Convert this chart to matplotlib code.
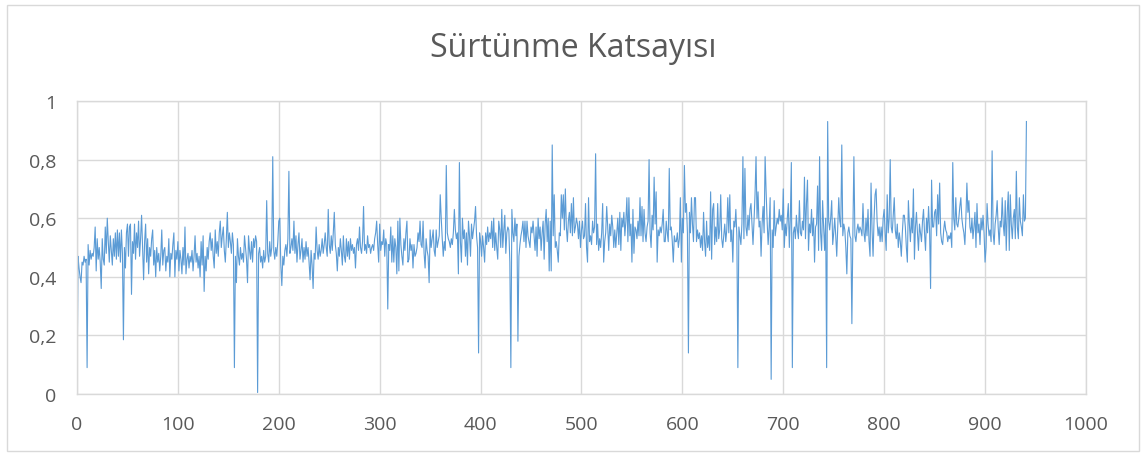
import numpy as np
import matplotlib
matplotlib.use("Agg")
import matplotlib.pyplot as plt
from matplotlib.patches import Rectangle

plt.rcParams['font.family'] = ['Open Sans', 'DejaVu Sans']

# friction coefficient readings, one per sample index (20 per row)
friction = [
    0.00, 0.47, 0.43, 0.40, 0.38, 0.45, 0.44, 0.47, 0.45, 0.46, 0.09, 0.51, 0.44, 0.49, 0.46, 0.48, 0.47, 0.50, 0.57, 0.42,
    0.53, 0.46, 0.50, 0.45, 0.36, 0.53, 0.46, 0.44, 0.57, 0.48, 0.60, 0.52, 0.45, 0.54, 0.49, 0.44, 0.53, 0.47, 0.55, 0.46,
    0.56, 0.47, 0.55, 0.45, 0.56, 0.48, 0.185, 0.50, 0.43, 0.55, 0.58, 0.47, 0.57, 0.58, 0.34, 0.52, 0.48, 0.58, 0.46, 0.55,
    0.50, 0.59, 0.47, 0.53, 0.61, 0.50, 0.39, 0.52, 0.58, 0.45, 0.53, 0.41, 0.50, 0.47, 0.53, 0.56, 0.44, 0.49, 0.40, 0.50,
    0.45, 0.48, 0.42, 0.47, 0.56, 0.44, 0.49, 0.50, 0.42, 0.47, 0.45, 0.53, 0.40, 0.48, 0.46, 0.51, 0.55, 0.40, 0.49, 0.46,
    0.52, 0.42, 0.49, 0.46, 0.41, 0.50, 0.44, 0.57, 0.41, 0.46, 0.48, 0.43, 0.47, 0.45, 0.49, 0.42, 0.47, 0.54, 0.45, 0.48,
    0.43, 0.47, 0.40, 0.52, 0.44, 0.54, 0.35, 0.47, 0.42, 0.50, 0.46, 0.52, 0.55, 0.49, 0.53, 0.47, 0.43, 0.56, 0.48, 0.52,
    0.47, 0.55, 0.59, 0.50, 0.54, 0.57, 0.49, 0.45, 0.53, 0.62, 0.50, 0.55, 0.52, 0.48, 0.55, 0.51, 0.09, 0.47, 0.38, 0.53,
    0.47, 0.44, 0.50, 0.46, 0.48, 0.45, 0.54, 0.50, 0.46, 0.38, 0.54, 0.49, 0.46, 0.52, 0.45, 0.53, 0.50, 0.54, 0.52, 0.005,
    0.48, 0.50, 0.45, 0.47, 0.43, 0.49, 0.45, 0.47, 0.66, 0.48, 0.45, 0.52, 0.47, 0.50, 0.81, 0.49, 0.46, 0.50, 0.47, 0.52,
    0.59, 0.60, 0.44, 0.37, 0.47, 0.44, 0.49, 0.51, 0.47, 0.53, 0.76, 0.48, 0.50, 0.53, 0.49, 0.59, 0.48, 0.54, 0.45, 0.51,
    0.55, 0.46, 0.49, 0.53, 0.45, 0.50, 0.46, 0.52, 0.47, 0.50, 0.45, 0.39, 0.49, 0.44, 0.36, 0.48, 0.46, 0.57, 0.49, 0.46,
    0.51, 0.47, 0.49, 0.53, 0.48, 0.51, 0.55, 0.50, 0.47, 0.63, 0.51, 0.48, 0.54, 0.49, 0.55, 0.62, 0.51, 0.48, 0.42, 0.50,
    0.47, 0.53, 0.49, 0.44, 0.54, 0.47, 0.45, 0.53, 0.47, 0.52, 0.46, 0.53, 0.49, 0.51, 0.48, 0.50, 0.43, 0.51, 0.53, 0.49,
    0.57, 0.50, 0.48, 0.52, 0.64, 0.49, 0.51, 0.48, 0.54, 0.50, 0.51, 0.48, 0.50, 0.51, 0.49, 0.53, 0.55, 0.59, 0.51, 0.45,
    0.58, 0.49, 0.52, 0.51, 0.56, 0.47, 0.53, 0.51, 0.29, 0.51, 0.49, 0.57, 0.45, 0.54, 0.45, 0.53, 0.50, 0.41, 0.59, 0.42,
    0.60, 0.51, 0.47, 0.44, 0.53, 0.49, 0.55, 0.59, 0.45, 0.46, 0.53, 0.49, 0.51, 0.43, 0.51, 0.47, 0.48, 0.50, 0.55, 0.52,
    0.59, 0.51, 0.50, 0.59, 0.48, 0.43, 0.53, 0.49, 0.47, 0.38, 0.56, 0.50, 0.53, 0.56, 0.49, 0.47, 0.56, 0.50, 0.52, 0.54,
    0.68, 0.60, 0.53, 0.47, 0.52, 0.49, 0.78, 0.55, 0.53, 0.52, 0.50, 0.53, 0.51, 0.55, 0.63, 0.56, 0.53, 0.55, 0.41, 0.79,
    0.52, 0.45, 0.60, 0.53, 0.56, 0.47, 0.55, 0.44, 0.59, 0.54, 0.47, 0.58, 0.53, 0.56, 0.59, 0.64, 0.54, 0.50, 0.14, 0.55,
    0.52, 0.47, 0.54, 0.50, 0.45, 0.55, 0.51, 0.57, 0.52, 0.55, 0.53, 0.59, 0.50, 0.60, 0.49, 0.55, 0.50, 0.46, 0.59, 0.56,
    0.50, 0.63, 0.50, 0.56, 0.61, 0.48, 0.55, 0.57, 0.56, 0.45, 0.09, 0.63, 0.55, 0.52, 0.60, 0.54, 0.58, 0.18, 0.47, 0.51,
    0.54, 0.56, 0.59, 0.52, 0.59, 0.50, 0.59, 0.54, 0.52, 0.50, 0.57, 0.55, 0.59, 0.54, 0.49, 0.57, 0.47, 0.60, 0.53, 0.57,
    0.49, 0.55, 0.59, 0.46, 0.58, 0.63, 0.52, 0.60, 0.42, 0.59, 0.42, 0.85, 0.54, 0.68, 0.50, 0.52, 0.49, 0.45, 0.55, 0.54,
    0.68, 0.60, 0.68, 0.56, 0.70, 0.57, 0.52, 0.59, 0.62, 0.55, 0.65, 0.54, 0.67, 0.55, 0.57, 0.60, 0.58, 0.53, 0.59, 0.50,
    0.56, 0.59, 0.53, 0.54, 0.65, 0.50, 0.45, 0.67, 0.52, 0.54, 0.51, 0.59, 0.55, 0.57, 0.82, 0.51, 0.58, 0.49, 0.53, 0.50,
    0.55, 0.65, 0.45, 0.52, 0.55, 0.64, 0.57, 0.49, 0.58, 0.54, 0.61, 0.57, 0.50, 0.56, 0.50, 0.55, 0.60, 0.51, 0.62, 0.49,
    0.60, 0.57, 0.62, 0.54, 0.59, 0.67, 0.52, 0.67, 0.54, 0.58, 0.45, 0.63, 0.48, 0.57, 0.56, 0.53, 0.59, 0.54, 0.67, 0.54,
    0.64, 0.52, 0.63, 0.55, 0.52, 0.57, 0.59, 0.80, 0.55, 0.50, 0.61, 0.56, 0.74, 0.58, 0.69, 0.45, 0.56, 0.54, 0.57, 0.55,
    0.58, 0.63, 0.52, 0.52, 0.59, 0.55, 0.52, 0.77, 0.56, 0.57, 0.52, 0.45, 0.54, 0.52, 0.52, 0.55, 0.50, 0.53, 0.67, 0.45,
    0.60, 0.55, 0.78, 0.62, 0.65, 0.55, 0.14, 0.62, 0.55, 0.67, 0.58, 0.52, 0.67, 0.67, 0.52, 0.56, 0.53, 0.55, 0.50, 0.54,
    0.49, 0.62, 0.52, 0.47, 0.59, 0.50, 0.54, 0.49, 0.69, 0.46, 0.63, 0.65, 0.51, 0.57, 0.52, 0.65, 0.53, 0.56, 0.68, 0.53,
    0.50, 0.54, 0.58, 0.52, 0.56, 0.67, 0.55, 0.68, 0.52, 0.56, 0.45, 0.59, 0.57, 0.63, 0.54, 0.09, 0.57, 0.54, 0.51, 0.58,
    0.81, 0.53, 0.77, 0.57, 0.54, 0.61, 0.56, 0.63, 0.65, 0.58, 0.51, 0.59, 0.68, 0.81, 0.60, 0.69, 0.57, 0.59, 0.47, 0.58,
    0.64, 0.55, 0.81, 0.69, 0.59, 0.51, 0.57, 0.67, 0.05, 0.56, 0.50, 0.66, 0.54, 0.57, 0.60, 0.58, 0.63, 0.59, 0.61, 0.56,
    0.70, 0.50, 0.58, 0.54, 0.60, 0.65, 0.50, 0.60, 0.79, 0.09, 0.55, 0.57, 0.53, 0.61, 0.56, 0.53, 0.66, 0.55, 0.54, 0.59,
    0.56, 0.74, 0.53, 0.65, 0.73, 0.49, 0.58, 0.55, 0.63, 0.54, 0.60, 0.45, 0.57, 0.58, 0.71, 0.49, 0.81, 0.55, 0.49, 0.66,
    0.57, 0.49, 0.60, 0.09, 0.93, 0.59, 0.56, 0.60, 0.66, 0.51, 0.55, 0.60, 0.54, 0.47, 0.57, 0.67, 0.59, 0.57, 0.85, 0.54,
    0.58, 0.56, 0.50, 0.41, 0.55, 0.57, 0.54, 0.53, 0.24, 0.55, 0.81, 0.54, 0.52, 0.56, 0.58, 0.55, 0.57, 0.56, 0.54, 0.65,
    0.55, 0.52, 0.60, 0.54, 0.63, 0.52, 0.47, 0.72, 0.56, 0.47, 0.60, 0.68, 0.70, 0.59, 0.54, 0.57, 0.52, 0.57, 0.52, 0.60,
    0.63, 0.55, 0.49, 0.68, 0.55, 0.60, 0.80, 0.57, 0.55, 0.61, 0.67, 0.56, 0.53, 0.58, 0.50, 0.55, 0.52, 0.47, 0.55, 0.61,
    0.61, 0.57, 0.50, 0.45, 0.66, 0.58, 0.52, 0.60, 0.55, 0.70, 0.46, 0.57, 0.62, 0.55, 0.49, 0.58, 0.55, 0.52, 0.59, 0.63,
    0.55, 0.49, 0.60, 0.55, 0.64, 0.56, 0.36, 0.73, 0.57, 0.57, 0.62, 0.63, 0.54, 0.68, 0.58, 0.72, 0.55, 0.52, 0.51, 0.56,
    0.59, 0.56, 0.55, 0.52, 0.54, 0.53, 0.55, 0.50, 0.79, 0.60, 0.56, 0.67, 0.58, 0.57, 0.60, 0.64, 0.67, 0.60, 0.57, 0.55,
    0.51, 0.60, 0.72, 0.62, 0.66, 0.57, 0.55, 0.60, 0.53, 0.57, 0.62, 0.50, 0.65, 0.55, 0.58, 0.51, 0.60, 0.56, 0.61, 0.55,
    0.45, 0.50, 0.65, 0.58, 0.54, 0.56, 0.52, 0.83, 0.55, 0.51, 0.58, 0.61, 0.66, 0.57, 0.51, 0.59, 0.57, 0.67, 0.58, 0.54,
    0.66, 0.49, 0.62, 0.69, 0.49, 0.68, 0.58, 0.53, 0.60, 0.63, 0.53, 0.76, 0.57, 0.53, 0.67, 0.59, 0.57, 0.54, 0.68, 0.59,
    0.60, 0.93,
]
sample = np.arange(len(friction))

x_ticks = list(range(0, 1001, 100))
y_ticks = [0, 0.2, 0.4, 0.6, 0.8, 1.0]
y_tick_labels = ["0", "0,2", "0,4", "0,6", "0,8", "1"]

GRID = "#d9d9d9"
TEXT = "#595959"
LINE = "#5b9bd5"

fig = plt.figure(figsize=(11.46, 4.56), dpi=100)
fig.patches.append(Rectangle((0.006, 0.008), 0.988, 0.978, transform=fig.transFigure,
                             fill=False, edgecolor=GRID, linewidth=1.0))

ax = fig.add_axes([0.0672, 0.1338, 0.8804, 0.6425])
ax.plot(sample, friction, color=LINE, linewidth=0.8)

ax.set_xlim(0, 1000)
ax.set_ylim(0, 1)
ax.set_xticks(x_ticks)
ax.set_yticks(y_ticks)
ax.set_yticklabels(y_tick_labels)
ax.grid(True, color=GRID, linewidth=1.0)
ax.set_axisbelow(True)
for s in ax.spines.values():
    s.set_color(GRID)
    s.set_linewidth(1.0)
ax.tick_params(length=0, labelsize=14, labelcolor=TEXT)
ax.tick_params(axis='y', pad=15)
ax.tick_params(axis='x', pad=15)

fig.text(0.5, 0.893, "Sürtünme Katsayısı", ha='center', va='center',
         fontsize=23, color=TEXT)

fig.savefig("out.png", dpi=100)
